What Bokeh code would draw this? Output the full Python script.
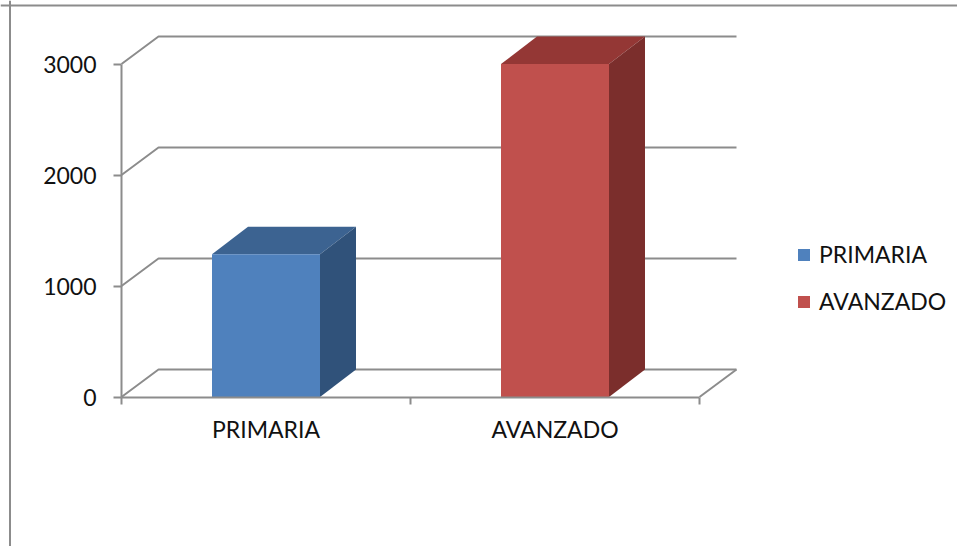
from bokeh.plotting import figure
from bokeh.models import (LinearAxis, FixedTicker, Range1d, Legend, LegendItem, Span)
from bokeh.embed import file_html
from bokeh.resources import INLINE

categories = ["PRIMARIA", "AVANZADO"]
values = [1285, 3000]
front_colors = ["#4F81BD", "#C0504D"]
top_colors = ["#3C6391", "#943735"]
side_colors = ["#30527A", "#7B2E2C"]
y_ticks = [0, 1000, 2000, 3000]

W, H = 957, 546
X0, Y0 = 121, 396.5        # screen position of the chart origin
PX_PER_CAT = 289
PX_PER_VAL = 333 / 3000
WALL_PX_X, DEPTH_PX_X, DEPTH_PX_Y = 37, 36, 27.5
BAR_W = 108 / 289
GRID = "#8C8C8C"
FONT = "Lato"

dx = DEPTH_PX_X / PX_PER_CAT
wx = WALL_PX_X / PX_PER_CAT
dy = DEPTH_PX_Y / PX_PER_VAL
n = len(categories)

p = figure(width=W, height=H, output_backend="svg", toolbar_location=None,
           x_axis_type=None, y_axis_type=None, min_border=0,
           x_range=Range1d(-X0 / PX_PER_CAT, (W - X0) / PX_PER_CAT),
           y_range=Range1d((Y0 - H) / PX_PER_VAL, Y0 / PX_PER_VAL))
p.outline_line_color = None
p.margin = (0, 0, 0, 0)

# chart area border (open at the bottom / right like the cropped original)
p.add_layout(Span(dimension="height", location=9.5, location_units="screen",
                  line_color=GRID, line_width=2))
p.add_layout(Span(dimension="width", location=H - 5, location_units="screen",
                  line_color=GRID, line_width=2))

# back wall gridlines and side wall diagonals
xs, ys = [], []
for t in y_ticks:
    xs.append([0, wx, n + wx])
    ys.append([t, t + dy, t + dy])
xs.append([n, n + wx])
ys.append([0, dy])
p.multi_line(xs, ys, line_color=GRID, line_width=2)

# 3D bars
front = []
for i, v in enumerate(values):
    l, r = i + 0.5 - BAR_W / 2, i + 0.5 + BAR_W / 2
    p.patch([l, r, r + dx, l + dx], [v, v, v + dy, v + dy], fill_color=top_colors[i], line_color=None)
    p.patch([r, r + dx, r + dx, r], [0, dy, v + dy, v], fill_color=side_colors[i], line_color=None)
    front.append(p.vbar(x=[i + 0.5], top=[v], bottom=[0], width=BAR_W,
                        fill_color=front_colors[i], line_color=None))

# axes
yax = LinearAxis(fixed_location=0, ticker=FixedTicker(ticks=y_ticks), bounds=(0, 3000))
xax = LinearAxis(fixed_location=0,
                 ticker=FixedTicker(ticks=[i + 0.5 for i in range(n)], minor_ticks=list(range(n + 1))),
                 major_label_overrides={i + 0.5: c for i, c in enumerate(categories)},
                 bounds=(0, n))
for ax in (xax, yax):
    ax.axis_line_color = GRID
    ax.axis_line_width = 2
    ax.major_tick_line_color = GRID
    ax.major_tick_line_width = 2
    ax.minor_tick_line_color = GRID
    ax.minor_tick_line_width = 2
    ax.major_tick_in = 0
    ax.minor_tick_in = 0
    ax.major_label_text_font = FONT
    ax.major_label_text_font_size = "23px"
    ax.major_label_text_color = "#111111"
yax.major_tick_out = 8
yax.minor_tick_out = 0
yax.major_label_standoff = 17
xax.major_tick_out = 0
xax.minor_tick_out = 7
xax.major_label_standoff = 11
p.add_layout(yax, "left")
p.add_layout(xax, "below")

legend = Legend(items=[LegendItem(label=c, renderers=[r]) for c, r in zip(categories, front)],
                location=(796, 231), orientation="vertical",
                glyph_width=15, glyph_height=15, spacing=19, padding=5, margin=0,
                label_standoff=8, background_fill_alpha=0, border_line_color=None,
                label_text_font=FONT, label_text_font_size="23px", label_text_color="#111111")
p.add_layout(legend)

open("out.html", "w").write(file_html(p, INLINE))
